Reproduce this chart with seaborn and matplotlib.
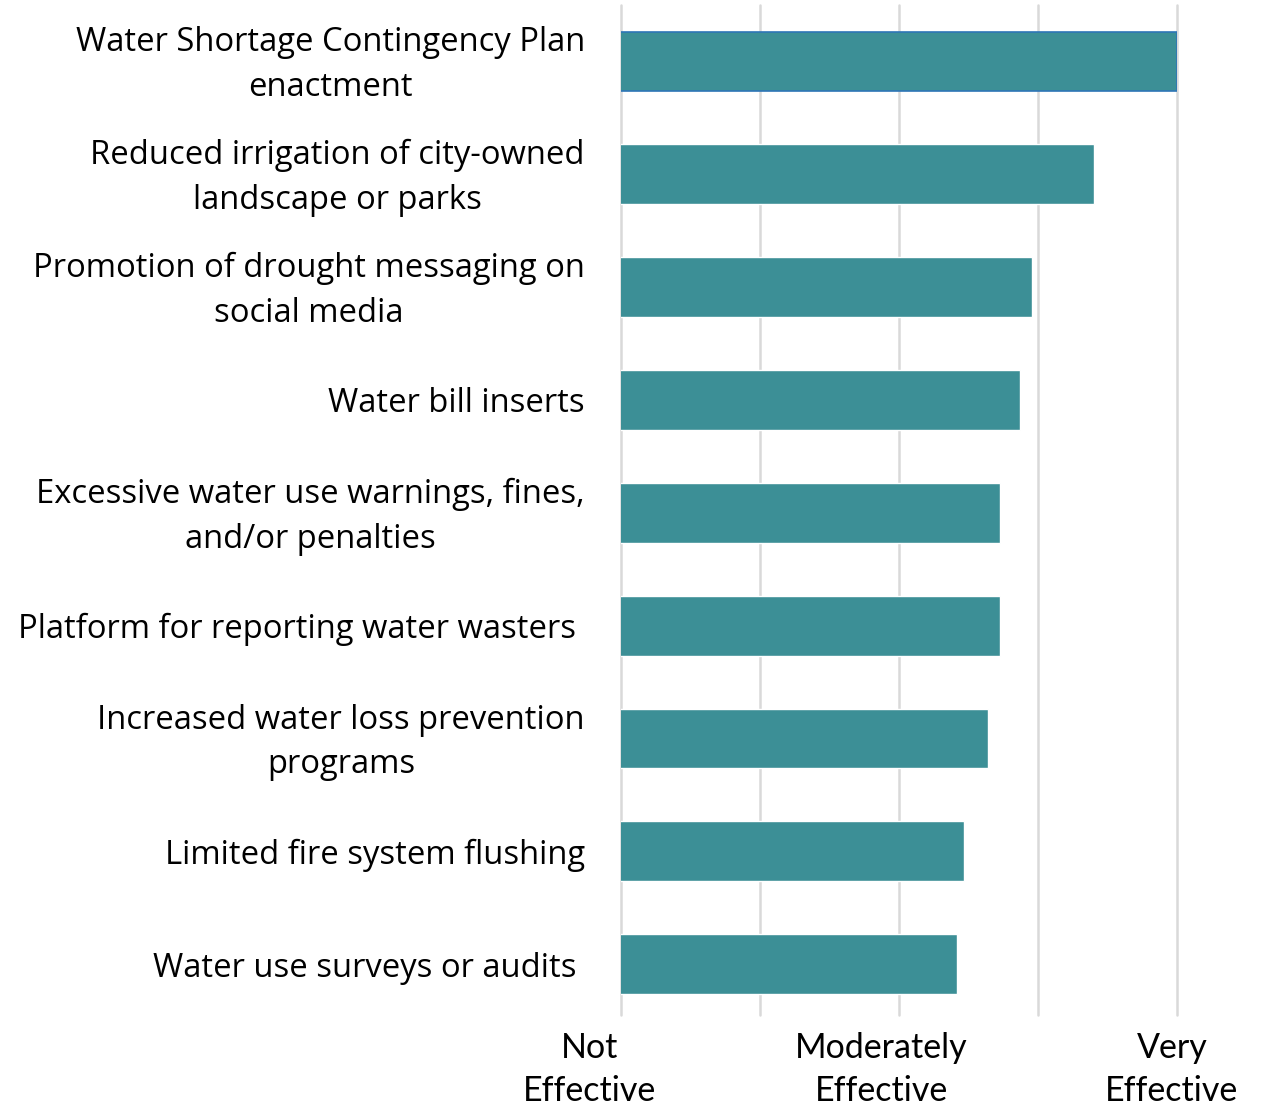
import matplotlib
matplotlib.use("Agg")
import matplotlib.pyplot as plt
import matplotlib.transforms as mtransforms
import seaborn as sns
import pandas as pd

strategies = [
    "Water Shortage Contingency Plan\nenactment",
    "Reduced irrigation of city-owned\nlandscape or parks",
    "Promotion of drought messaging on\nsocial media",
    "Water bill inserts",
    "Excessive water use warnings, fines,\nand/or penalties",
    "Platform for reporting water wasters ",
    "Increased water loss prevention\nprograms",
    "Limited fire system flushing",
    "Water use surveys or audits ",
]
scores = [5.00, 4.40, 3.96, 3.87, 3.73, 3.73, 3.64, 3.47, 3.42]
scale_ticks = [1, 2, 3, 4, 5]
scale_labels = ["Not\nEffective", "", "Moderately\nEffective", "", "Very\nEffective"]

df = pd.DataFrame({"strategy": strategies, "score": scores})

sns.set_theme(style="white")
plt.rcParams["font.family"] = ["Open Sans", "DejaVu Sans"]

fig = plt.figure(figsize=(12.63, 11.08), dpi=100)
ax = fig.add_axes([621 / 1263, 93 / 1108, 556 / 1263, 1010 / 1108])

sns.barplot(data=df, y="strategy", x="score", orient="h", color="#3C8F96",
            saturation=1, width=0.53, ax=ax, zorder=3)
ax.patches[0].set_edgecolor("#2E75B6")
ax.patches[0].set_linewidth(1.2)

ax.set_xlim(1, 5)
ax.set_ylim(8.45, -0.5)
ax.set_xticks(scale_ticks)
ax.set_xticklabels(scale_labels, fontfamily="Lato", fontsize=24.5, linespacing=1.42)
ax.xaxis.grid(True, color="#D9D9D9", linewidth=1.8, zorder=0)
for gl in ax.get_xgridlines():
    gl.set_clip_on(False)
ax.yaxis.grid(False)
for s in ax.spines.values():
    s.set_visible(False)
ax.tick_params(axis="both", length=0)
ax.tick_params(axis="x", pad=12)
ax.tick_params(axis="y", pad=26)
for lbl in ax.get_yticklabels():
    lbl.set_fontsize(23.6)
    lbl.set_multialignment("center")
    lbl.set_linespacing(1.47)
    lbl.set_color("black")
    if "\n" in lbl.get_text():
        lbl.set_transform(lbl.get_transform() +
                          mtransforms.ScaledTranslation(0, 6 / 100, fig.dpi_scale_trans))

# nudge the scale labels to their printed positions
shifts = [-31, 0, -18, 0, -5]
for lbl, dx in zip(ax.get_xticklabels(), shifts):
    lbl.set_transform(lbl.get_transform() +
                      mtransforms.ScaledTranslation(dx / 100, 0, fig.dpi_scale_trans))
    lbl.set_color("black")

ax.set_xlabel("")
ax.set_ylabel("")

fig.savefig("out.png", dpi=100)
